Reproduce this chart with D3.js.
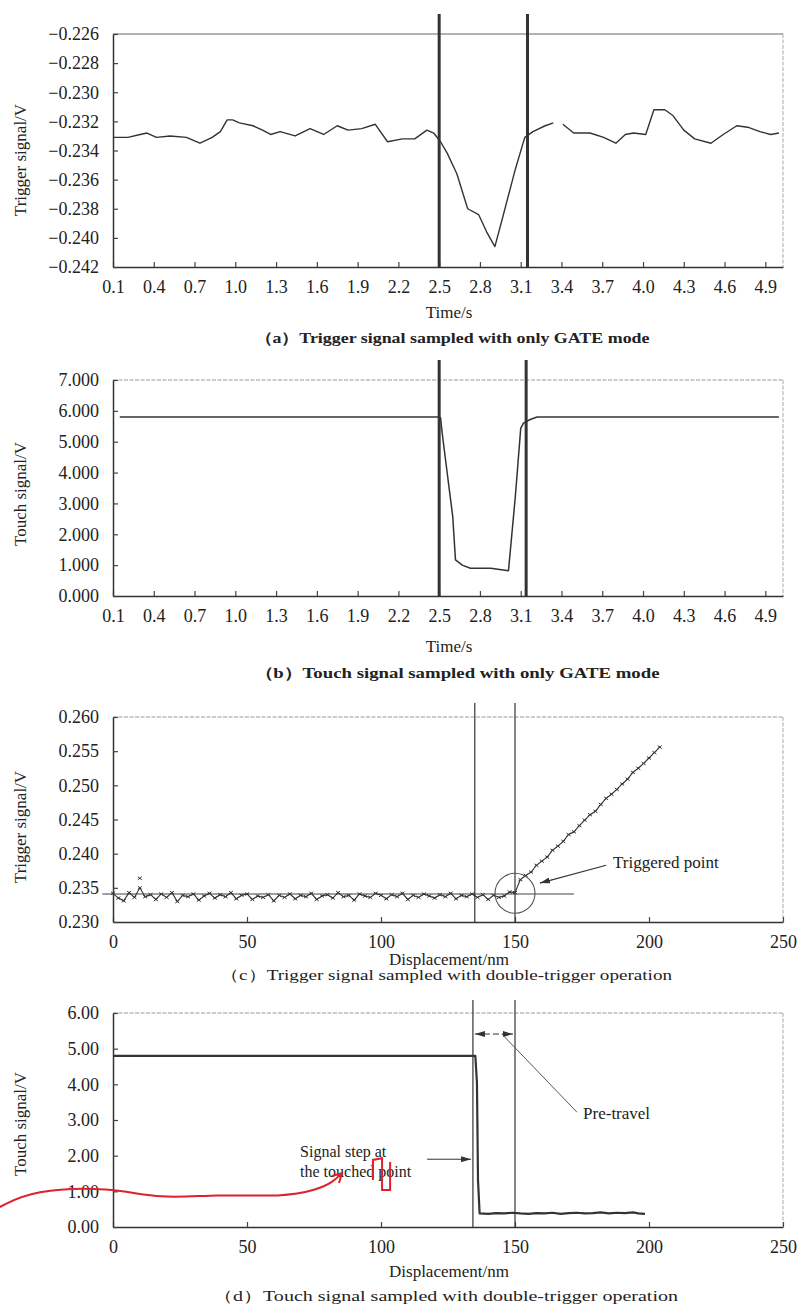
<!DOCTYPE html>
<html><head><meta charset="utf-8">
<script src="https://cdn.jsdelivr.net/npm/d3@7"></script>
<style>
body{margin:0;background:#fff}
svg{display:block}
text{font-family:"Liberation Serif","Times New Roman",serif;fill:#222}
</style>
</head><body><svg id="chart" width="797" height="1305"></svg>
<script>
// ---------------- DATA ----------------
// (a) Trigger signal, GATE mode
const aTime = [0.10,0.21,0.30,0.35,0.42,0.52,0.64,0.74,0.83,0.89,0.94,0.98,1.03,1.13,1.20,1.26,1.33,1.44,1.55,1.65,1.75,1.83,1.93,2.03,2.12,2.23,2.32,2.41,2.46,2.51,2.56,2.63,2.71,2.79,2.85,2.91,2.97,3.06,3.13,3.19,3.28,3.34,3.38,3.41,3.49,3.61,3.71,3.80,3.87,3.93,4.02,4.08,4.16,4.22,4.30,4.38,4.50,4.59,4.69,4.77,4.86,4.94,5.00];
const aSignal = [-0.2331,-0.2331,-0.2329,-0.2328,-0.2331,-0.2330,-0.2331,-0.2335,-0.2331,-0.2327,-0.2319,-0.2319,-0.2321,-0.2323,-0.2326,-0.2329,-0.2327,-0.2330,-0.2325,-0.2329,-0.2323,-0.2326,-0.2325,-0.2322,-0.2334,-0.2332,-0.2332,-0.2326,-0.2328,-0.2334,-0.2342,-0.2356,-0.2380,-0.2384,-0.2396,-0.2406,-0.2385,-0.2353,-0.2331,-0.2327,-0.2323,-0.2321,null,-0.2322,-0.2328,-0.2328,-0.2331,-0.2335,-0.2329,-0.2328,-0.2329,-0.2312,-0.2312,-0.2316,-0.2326,-0.2332,-0.2335,-0.2329,-0.2323,-0.2324,-0.2327,-0.2329,-0.2328];
const aMarkers = [2.5, 3.15];

// (b) Touch signal, GATE mode
const bTime = [0.15,2.49,2.51,2.52,2.53,2.60,2.62,2.67,2.73,2.88,3.01,3.06,3.10,3.12,3.17,3.22,5.00];
const bSignal = [5.80,5.80,5.78,5.37,5.00,2.57,1.17,1.00,0.90,0.90,0.82,3.20,5.43,5.60,5.72,5.80,5.80];
const bMarkers = [2.5, 3.14];

const timeTicks = [0.1,0.4,0.7,1.0,1.3,1.6,1.9,2.2,2.5,2.8,3.1,3.4,3.7,4.0,4.3,4.6,4.9];

// (c) Trigger signal, double-trigger
const cDisp = [0,2,4,6,8,10,12,14,16,18,20,22,24,26,28,30,32,34,36,38,40,42,44,46,48,50,52,54,56,58,60,62,64,66,68,70,72,74,76,78,80,82,84,86,88,90,92,94,96,98,100,102,104,106,108,110,112,114,116,118,120,122,124,126,128,130,132,134,136,138,140,142,144,146,148,150,152,154,156,158,160,162,164,166,168,170,172,174,176,178,180,182,184,186,188,190,192,194,196,198,200,202,204];
const cSignal = [0.2342,0.2335,0.2331,0.2343,0.2336,0.2350,0.2337,0.2340,0.2333,0.2341,0.2336,0.2343,0.2330,0.2339,0.2337,0.2341,0.2332,0.2338,0.2342,0.2335,0.2340,0.2337,0.2343,0.2334,0.2339,0.2341,0.2333,0.2338,0.2336,0.2340,0.2331,0.2339,0.2336,0.2341,0.2334,0.2339,0.2337,0.2342,0.2333,0.2338,0.2340,0.2335,0.2343,0.2337,0.2339,0.2332,0.2341,0.2338,0.2336,0.2342,0.2339,0.2334,0.2340,0.2337,0.2342,0.2333,0.2339,0.2336,0.2341,0.2338,0.2335,0.2340,0.2337,0.2342,0.2334,0.2339,0.2337,0.2341,0.2336,0.2340,0.2333,0.2339,0.2336,0.2338,0.2344,0.2343,0.2362,0.2368,0.2373,0.2383,0.2389,0.2395,0.2405,0.2411,0.2418,0.2428,0.2432,0.2441,0.2449,0.2457,0.2462,0.2472,0.2481,0.2487,0.2494,0.2502,0.2509,0.2519,0.2525,0.2532,0.2540,0.2548,0.2556];
const cOutlier = [[10, 0.2364]];
const cFit = [[-4, 0.2341],[172, 0.2341]];
const cMarkers = [135, 150];
const cTrigger = [150, 0.2342];

// (d) Touch signal, double-trigger
const dDisp = [0,135.2,135.8,136.2,136.8,140,143,146,149,152,155,158,161,164,167,170,173,176,179,182,185,188,191,194,196,198.5];
const dSignal = [4.80,4.80,4.05,1.30,0.38,0.37,0.39,0.38,0.40,0.38,0.37,0.39,0.38,0.40,0.37,0.39,0.40,0.38,0.39,0.41,0.38,0.40,0.39,0.41,0.38,0.37];
const dMarkers = [134.3, 150];
const dispTicks = [0,50,100,150,200,250];

// hand-drawn red annotation (in panel d data units)
const redCurve = [[-42.2,0.56],[-29.9,1.04],[-1.1,1.12],[17.5,0.78],[38.8,0.92],[63.4,0.84],[76.1,1.04],[82.1,1.26],[85.4,1.51]];
const redSquiggle = [[97,1.32],[97,1.88],[100.4,1.93],[100.4,1.04],[103.4,1.04],[103.4,1.82]];

// texts
const captions = ["（a）Trigger signal sampled with only GATE mode","（b）Touch signal sampled with only GATE mode","（c）Trigger signal sampled with double-trigger operation","（d）Touch signal sampled with double-trigger operation"];
const yTitles = ["Trigger signal/V","Touch signal/V","Trigger signal/V","Touch signal/V"];
const xTitles = ["Time/s","Time/s","Displacement/nm","Displacement/nm"];

// ---------------- DRAW ----------------
const svg = d3.select("#chart");
const defs = svg.append("defs");
defs.append("marker").attr("id","arr").attr("viewBox","0 0 10 6").attr("refX",10).attr("refY",3)
  .attr("markerWidth",10).attr("markerHeight",6).attr("markerUnits","userSpaceOnUse").attr("orient","auto-start-reverse")
  .append("path").attr("d","M0,0L10,3L0,6Z").attr("fill","#333");
defs.append("marker").attr("id","redarr").attr("viewBox","0 0 12 12").attr("refX",10).attr("refY",6)
  .attr("markerWidth",12).attr("markerHeight",12).attr("markerUnits","userSpaceOnUse").attr("orient","auto")
  .append("path").attr("d","M1,1L10,6L1,11").attr("fill","none").attr("stroke","#e0202a").attr("stroke-width",2);

const L = 113, R = 783;
const layout = [
  {top:34, bottom:267, ext:20, yCenter:160, xTitleY:318, capY:343, capW:395, capBold:true, vW:3},
  {top:380, bottom:596, ext:20, yCenter:494, xTitleY:652, capY:678, capW:405, capBold:true, vW:3},
  {top:717, bottom:922, ext:14, yCenter:827, xTitleY:965, capY:980, capW:452, capBold:false, vW:1.2},
  {top:1013, bottom:1227, ext:13, yCenter:1124, xTitleY:1277, capY:1301, capW:465, capBold:false, vW:1.2}
];

function frame(i, x, y, xTicks, xFmt, yTicks, yFmt) {
  const lay = layout[i];
  const g = svg.append("g");
  // top/right borders
  g.append("line").attr("x1",L).attr("x2",R).attr("y1",lay.top).attr("y2",lay.top)
    .attr("stroke", i===0 ? "#666" : "#9a9a9a").attr("stroke-width",1.2).attr("stroke-dasharray", i===0 ? null : "4,1.5");
  g.append("line").attr("x1",R).attr("x2",R).attr("y1",lay.top).attr("y2",lay.bottom)
    .attr("stroke","#aaa").attr("stroke-width",1).attr("stroke-dasharray","4,1.5");
  const ax = g.append("g").attr("transform",`translate(0,${lay.bottom})`)
    .call(d3.axisBottom(x).tickValues(xTicks).tickFormat(xFmt).tickSizeInner(-5).tickSizeOuter(0).tickPadding(13));
  const ay = g.append("g").attr("transform",`translate(${L},0)`)
    .call(d3.axisLeft(y).tickValues(yTicks).tickFormat(yFmt).tickSizeInner(-5).tickSizeOuter(0).tickPadding(14));
  [ax, ay].forEach(a => {
    a.select(".domain").attr("stroke","#333").attr("stroke-width",1.5);
    a.selectAll(".tick line").attr("stroke","#444").attr("stroke-width",1.2);
    a.selectAll(".tick text").attr("font-size",18).attr("fill","#222")
      .style("font-family",'"Liberation Serif",serif');
  });
  // titles
  g.append("text").attr("transform",`translate(26,${lay.yCenter}) rotate(-90)`).attr("text-anchor","middle")
    .attr("font-size",17).attr("fill","#333").text(yTitles[i]);
  g.append("text").attr("x",449).attr("y",lay.xTitleY).attr("text-anchor","middle")
    .attr("font-size",17).attr("fill","#222").text(xTitles[i]);
  g.append("text").attr("x",(lay.capW/2) + (i<2?254.5:(i===2?220:213)) ).attr("y",lay.capY).attr("text-anchor","middle")
    .attr("font-size",15).attr("font-weight",lay.capBold?"bold":"normal").attr("fill", i===3?"#444":"#222")
    .attr("textLength",lay.capW).attr("lengthAdjust","spacingAndGlyphs").text(captions[i]);
  return g;
}

function vlines(i, x, vals) {
  const lay = layout[i];
  svg.append("g").selectAll("line").data(vals).join("line")
    .attr("x1",d=>x(d)).attr("x2",d=>x(d)).attr("y1",lay.top-lay.ext).attr("y2",lay.bottom)
    .attr("stroke","#333").attr("stroke-width",lay.vW);
}

// ----- panel a -----
const xa = d3.scaleLinear().domain([0.1,5.03]).range([L,R]);
const ya = d3.scaleLinear().domain([-0.242,-0.226]).range([layout[0].bottom, layout[0].top]);
frame(0, xa, ya, timeTicks, d3.format(".1f"), d3.range(-0.242,-0.2259,0.002), d3.format(".3f"));
const aData = aTime.map((t,k)=>({t, v:aSignal[k]}));
svg.append("path").datum(aData)
  .attr("d", d3.line().defined(d=>d.v!==null).x(d=>xa(d.t)).y(d=>ya(d.v)))
  .attr("fill","none").attr("stroke","#333").attr("stroke-width",1.4).attr("stroke-linejoin","round");
vlines(0, xa, aMarkers);

// ----- panel b -----
const xb = d3.scaleLinear().domain([0.1,5.03]).range([L,R]);
const yb = d3.scaleLinear().domain([0,7]).range([layout[1].bottom, layout[1].top]);
frame(1, xb, yb, timeTicks, d3.format(".1f"), d3.range(0,7.01,1), d3.format(".3f"));
svg.append("path").datum(bTime.map((t,k)=>[t,bSignal[k]]))
  .attr("d", d3.line().x(d=>xb(d[0])).y(d=>yb(d[1])))
  .attr("fill","none").attr("stroke","#333").attr("stroke-width",1.5).attr("stroke-linejoin","round");
vlines(1, xb, bMarkers);

// ----- panel c -----
const xc = d3.scaleLinear().domain([0,250]).range([L,R]);
const yc = d3.scaleLinear().domain([0.230,0.260]).range([layout[2].bottom, layout[2].top]);
frame(2, xc, yc, dispTicks, d3.format("d"), d3.range(0.230,0.2601,0.005), d3.format(".3f"));
vlines(2, xc, cMarkers);
svg.append("path").datum(cFit).attr("d", d3.line().x(d=>xc(d[0])).y(d=>yc(d[1])))
  .attr("stroke","#444").attr("stroke-width",1.2).attr("fill","none");
const cData = cDisp.map((x,k)=>[x,cSignal[k]]);
svg.append("path").datum(cData).attr("d", d3.line().x(d=>xc(d[0])).y(d=>yc(d[1])))
  .attr("stroke","#333").attr("stroke-width",1.1).attr("fill","none");
svg.append("g").selectAll("path").data(cData.concat(cOutlier)).join("path")
  .attr("transform",d=>`translate(${xc(d[0])},${yc(d[1])})`)
  .attr("d","M-2,-1.5L2,1.5M-2,1.5L2,-1.5").attr("stroke","#333").attr("stroke-width",1);
svg.append("circle").attr("cx",xc(cTrigger[0])).attr("cy",yc(cTrigger[1])).attr("r",20)
  .attr("fill","none").attr("stroke","#555").attr("stroke-width",1.1);
svg.append("line").attr("x1",xc(184)).attr("y1",yc(0.2383)).attr("x2",xc(159.3)).attr("y2",yc(0.2357))
  .attr("stroke","#333").attr("stroke-width",1.2).attr("marker-end","url(#arr)");
svg.append("text").attr("x",xc(186.6)).attr("y",yc(0.2379)).attr("font-size",17).attr("fill","#333").text("Triggered point");

// ----- panel d -----
const xd = d3.scaleLinear().domain([0,250]).range([L,R]);
const yd = d3.scaleLinear().domain([0,6]).range([layout[3].bottom, layout[3].top]);
frame(3, xd, yd, dispTicks, d3.format("d"), d3.range(0,6.01,1), d3.format(".2f"));
vlines(3, xd, dMarkers);
svg.append("path").datum(dDisp.map((x,k)=>[x,dSignal[k]]))
  .attr("d", d3.line().x(d=>xd(d[0])).y(d=>yd(d[1])))
  .attr("fill","none").attr("stroke","#333").attr("stroke-width",2.2).attr("stroke-linejoin","round");
// pre-travel double arrow
svg.append("line").attr("x1",xd(dMarkers[0])+2).attr("x2",xd(dMarkers[1])-2).attr("y1",yd(5.41)).attr("y2",yd(5.41))
  .attr("stroke","#333").attr("stroke-width",1).attr("stroke-dasharray","6,3")
  .attr("marker-start","url(#arr)").attr("marker-end","url(#arr)");
svg.append("line").attr("x1",xd(145.1)).attr("y1",yd(5.41)).attr("x2",xd(173.1)).attr("y2",yd(3.22))
  .attr("stroke","#555").attr("stroke-width",1);
svg.append("text").attr("x",xd(175.4)).attr("y",yd(3.02)).attr("font-size",17).attr("fill","#444").text("Pre-travel");
svg.append("text").attr("x",xd(69.8)).attr("y",yd(1.96)).attr("font-size",16).attr("fill","#444").text("Signal step at");
svg.append("text").attr("x",xd(69.8)).attr("y",yd(1.40)).attr("font-size",16).attr("fill","#444").text("the touched point");
svg.append("line").attr("x1",xd(117.2)).attr("y1",yd(1.90)).attr("x2",xd(133.6)).attr("y2",yd(1.90))
  .attr("stroke","#333").attr("stroke-width",1).attr("marker-end","url(#arr)");
// red hand annotation
svg.append("path").datum(redCurve).attr("d", d3.line().curve(d3.curveBasis).x(d=>xd(d[0])).y(d=>yd(d[1])))
  .attr("fill","none").attr("stroke","#e0202a").attr("stroke-width",2).attr("marker-end","url(#redarr)");
svg.append("path").datum(redSquiggle).attr("d", d3.line().x(d=>xd(d[0])).y(d=>yd(d[1])))
  .attr("fill","none").attr("stroke","#e0202a").attr("stroke-width",2);
</script></body></html>
